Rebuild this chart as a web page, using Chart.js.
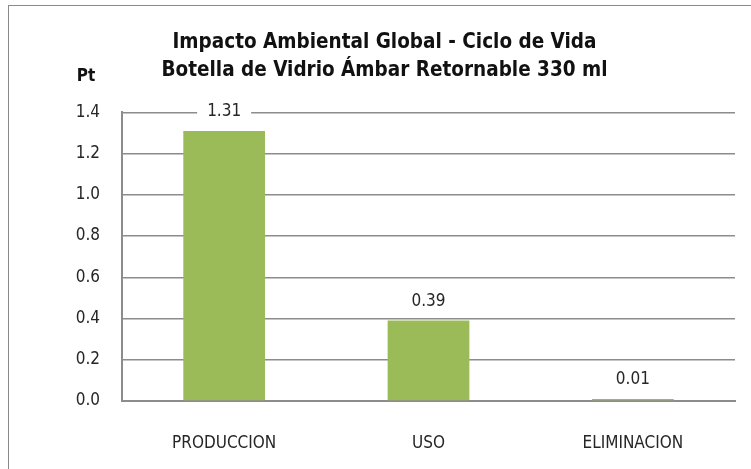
<!DOCTYPE html>
<html>
<head>
<meta charset="utf-8">
<script src="https://cdn.jsdelivr.net/npm/chart.js@4.4.1/dist/chart.umd.min.js"></script>
<style>
  html, body { margin: 0; padding: 0; background: #fff; }
  #wrap { position: relative; width: 751px; height: 469px; overflow: hidden; }
  #frame { position: absolute; left: 8px; top: 5px; width: 800px; height: 500px; border: 1.5px solid #8a8a8a; box-sizing: border-box; }
  #chart { position: absolute; left: 0; top: 0; }
</style>
</head>
<body>
<div id="wrap">
  <div id="frame"></div>
  <canvas id="chart" width="751" height="469"></canvas>
</div>
<script>
var etapas = ['PRODUCCION', 'USO', 'ELIMINACION'];
var impacto = [1.31, 0.39, 0.01];
var unidad = 'Pt';
var titulo = ['Impacto Ambiental Global - Ciclo de Vida', 'Botella de Vidrio Ámbar Retornable 330 ml'];

var fuente = '"Liberation Sans Narrow", "DejaVu Sans Condensed", sans-serif';

// etiquetas de valor encima de cada barra + "Pt" sobre el eje
const etiquetas = {
    id: 'etiquetas',
    afterDatasetsDraw(chart) {
        const ctx = chart.ctx;
        const meta = chart.getDatasetMeta(0);
        ctx.save();
        ctx.font = '17px ' + fuente;
        ctx.textAlign = 'center';
        ctx.textBaseline = 'middle';
        meta.data.forEach(function(bar, i) {
            var txt = impacto[i].toFixed(2);
            var w = ctx.measureText(txt).width + 20;
            var y = bar.y - 19;
            ctx.fillStyle = '#fff';
            ctx.fillRect(bar.x - w / 2, y - 9, w, 18);
            ctx.fillStyle = '#262626';
            ctx.fillText(txt, bar.x, y);
        });
        ctx.font = 'bold 17px ' + fuente;
        ctx.fillStyle = '#111';
        ctx.fillText(unidad, 86, 77);
        ctx.restore();
    }
};

const config = {
    type: 'bar',
    data: {
        labels: etapas,
        datasets: [{
            data: impacto,
            backgroundColor: '#9bbb59',
            barPercentage: 0.4,
            categoryPercentage: 1.0
        }]
    },
    options: {
        responsive: false,
        animation: false,
        layout: {
            padding: { left: 34, right: 16, top: 0, bottom: 0 }
        },
        plugins: {
            legend: { display: false },
            tooltip: { enabled: false },
            title: {
                display: true,
                text: titulo,
                color: '#111',
                font: { family: fuente, size: 20.5, weight: 'bold', lineHeight: 1.35 },
                padding: { top: 29, bottom: 28 }
            }
        },
        scales: {
            x: {
                grid: { display: false },
                border: { display: true, color: '#8c8c8c', width: 2 },
                ticks: {
                    color: '#262626',
                    font: { family: fuente, size: 17 },
                    padding: 24
                },
                afterFit: function(scale) { scale.height = 68; }
            },
            y: {
                min: 0,
                max: 1.4,
                grid: { color: '#8c8c8c', lineWidth: 1.5, drawTicks: false },
                border: { display: true, color: '#8c8c8c', width: 2 },
                ticks: {
                    stepSize: 0.2,
                    color: '#262626',
                    font: { family: fuente, size: 17 },
                    padding: 22,
                    callback: function(v) { return v.toFixed(1); }
                },
                afterFit: function(scale) { scale.width = 88; }
            }
        }
    },
    plugins: [etiquetas]
};

new Chart(document.getElementById('chart'), config);
</script>
</body>
</html>
